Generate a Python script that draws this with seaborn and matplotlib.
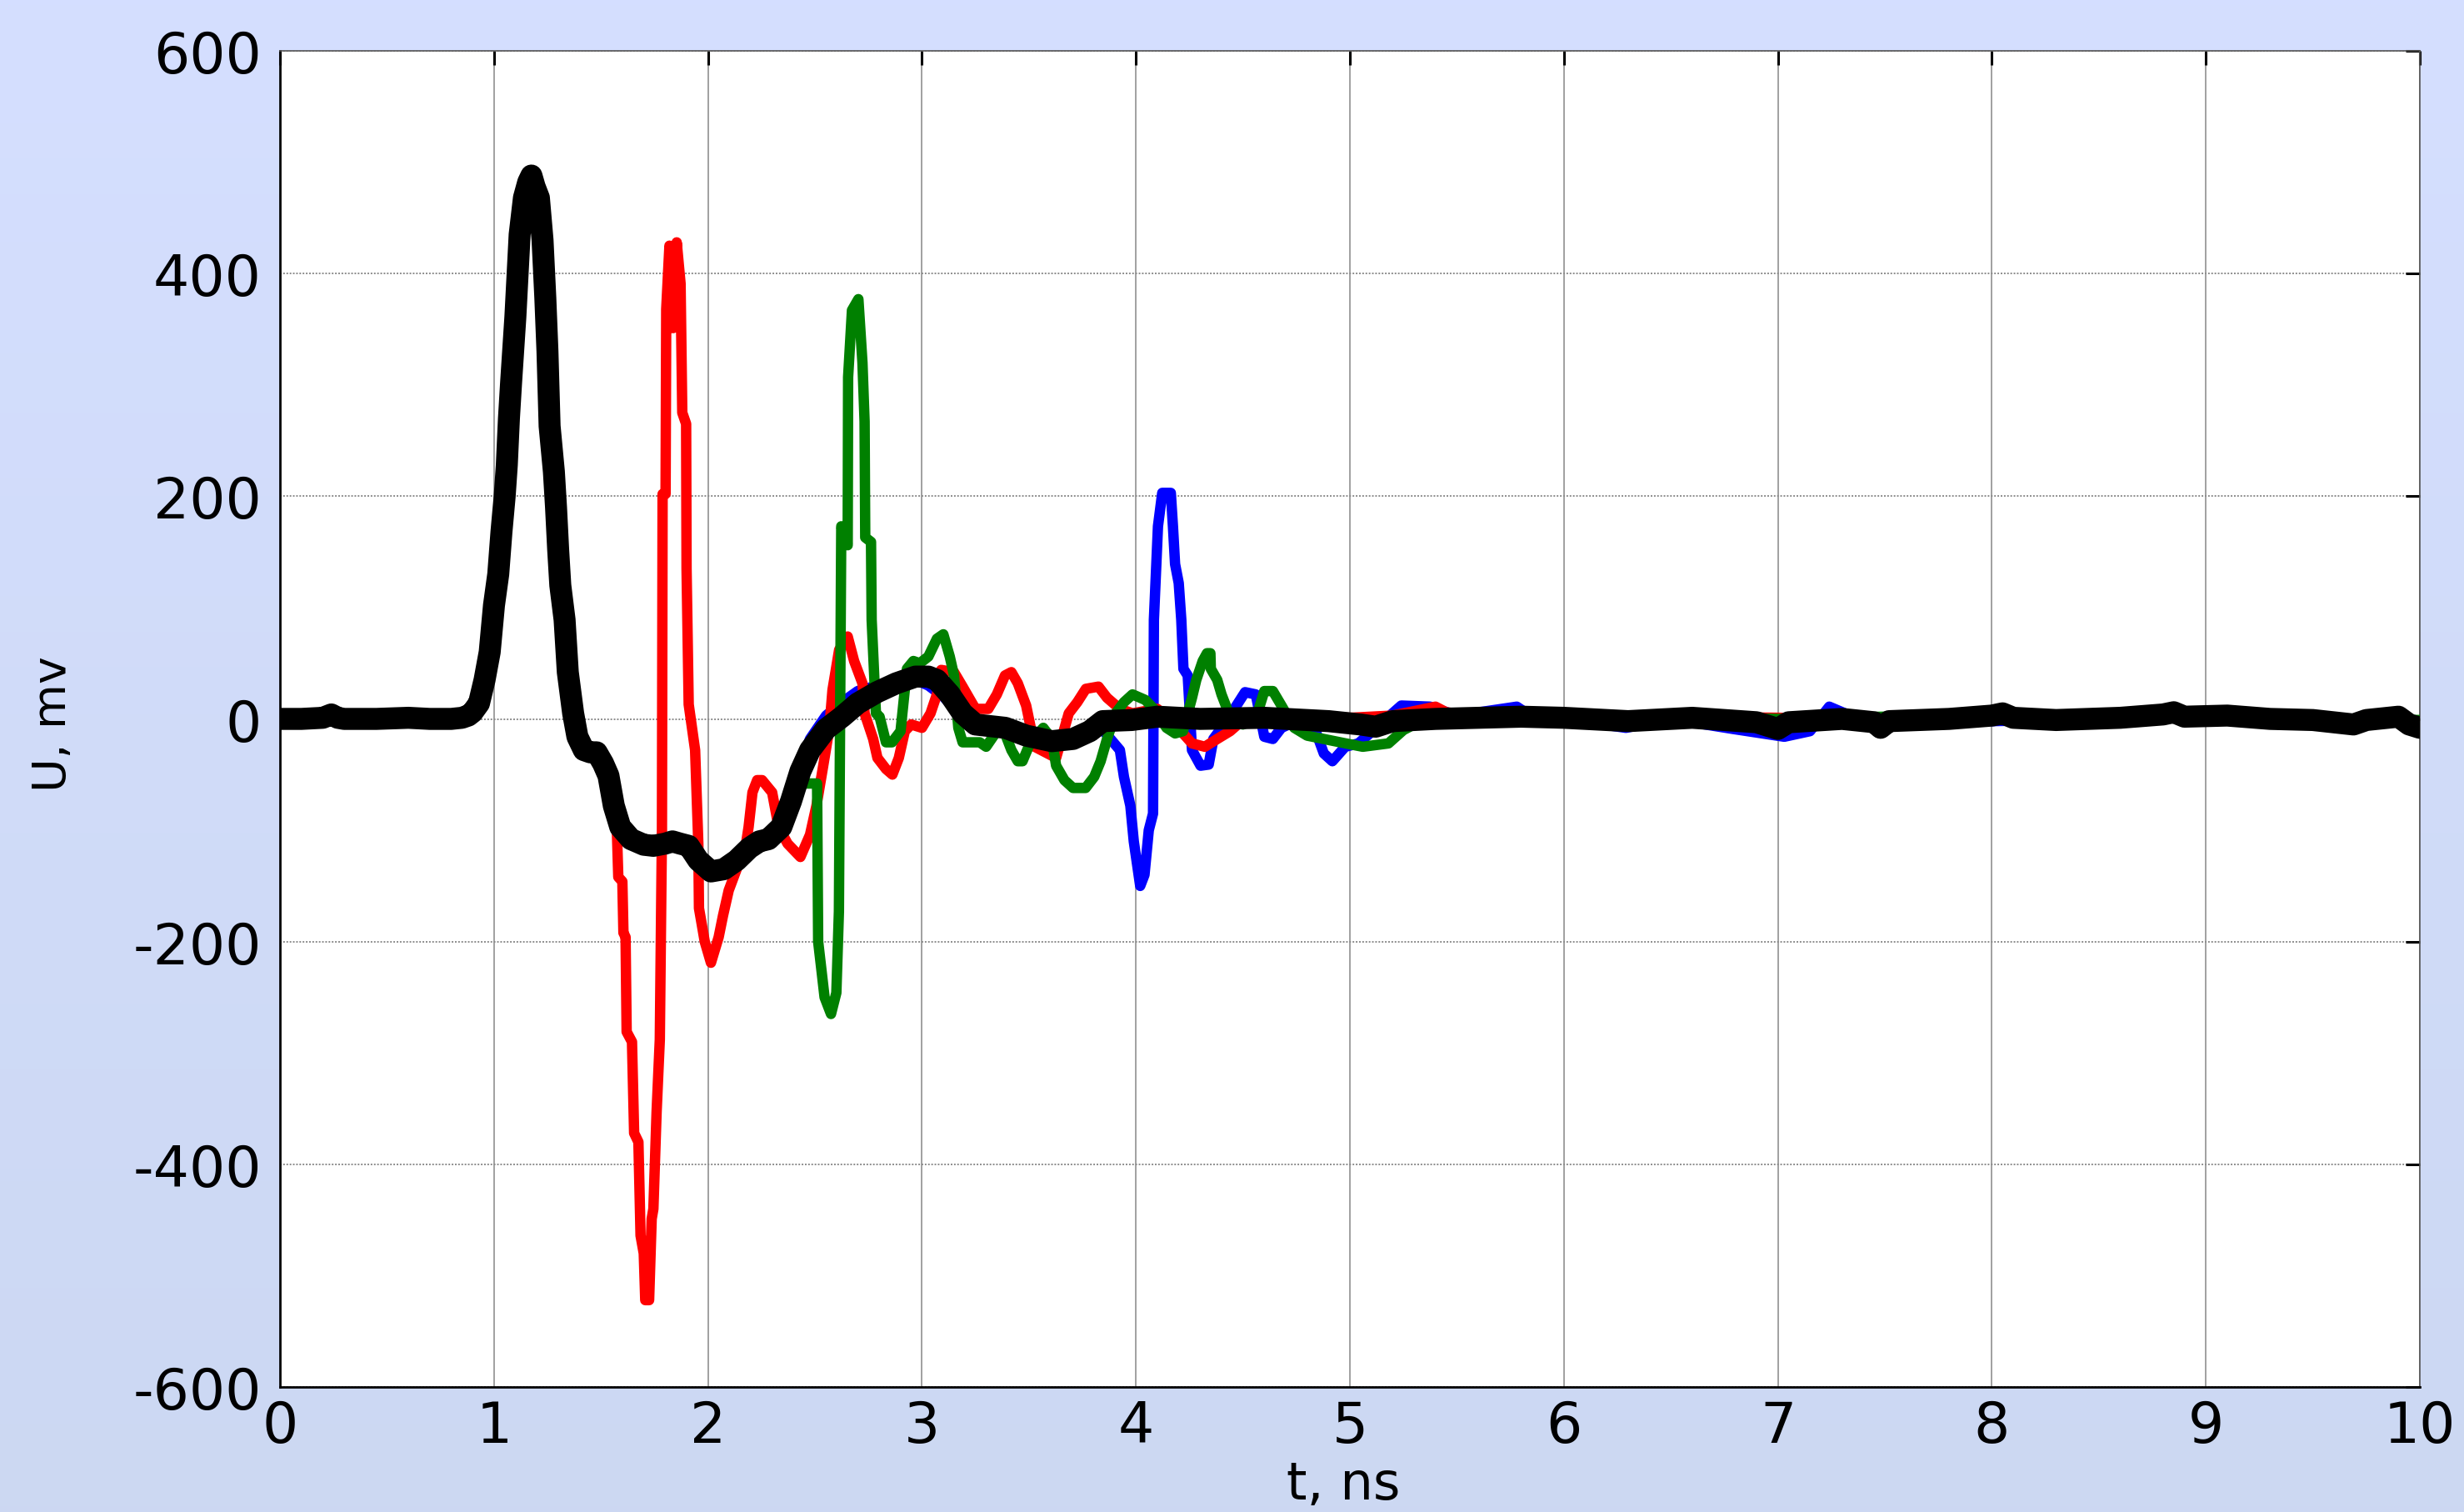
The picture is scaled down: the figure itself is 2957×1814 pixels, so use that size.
import numpy as np
import pandas as pd
import matplotlib
matplotlib.use("Agg")
import matplotlib.pyplot as plt
import seaborn as sns

# ---------------- data ----------------
# common initial pulse shared by all four traces
t_common = [0.00, 0.10, 0.20, 0.24, 0.27, 0.30, 0.45, 0.60, 0.70, 0.80, 0.85, 0.88,
            0.90, 0.93, 0.956, 0.98, 1.00, 1.02, 1.035, 1.05, 1.06, 1.07, 1.08, 1.10,
            1.12, 1.14, 1.16, 1.175, 1.19, 1.21, 1.227, 1.24, 1.25, 1.26, 1.28, 1.29,
            1.30, 1.31, 1.33, 1.345, 1.37, 1.39, 1.42, 1.45, 1.48]
u_common = [0, 0, 1, 4, 1, 0, 0, 1, 0, 0, 1, 3,
            6, 14, 35, 60, 102, 130, 168, 200, 228, 270, 302, 361,
            435, 468, 482, 488, 478, 468, 430, 378, 330, 263, 222, 190,
            152, 120, 89, 42, 5, -16, -28, -30, -30]

t_black = [1.51, 1.535, 1.56, 1.59, 1.64, 1.70, 1.745, 1.80, 1.834, 1.87, 1.91, 1.955,
           2.014, 2.074, 2.134, 2.193, 2.24, 2.283, 2.343, 2.388, 2.432, 2.477, 2.552,
           2.627, 2.70, 2.79, 2.88, 2.97, 3.03, 3.07, 3.13, 3.19, 3.25, 3.39, 3.487,
           3.607, 3.706, 3.785, 3.845, 3.98, 4.10, 4.30, 4.60, 4.90, 5.05, 5.12, 5.20,
           5.40, 5.80, 6.00, 6.30, 6.60, 6.90, 7.00, 7.05, 7.30, 7.45, 7.48, 7.52, 7.80,
           8.00, 8.05, 8.10, 8.30, 8.60, 8.80, 8.85, 8.90, 9.10, 9.30, 9.50, 9.69, 9.75,
           9.90, 9.95, 10.0]
u_black = [-40, -51, -78, -97, -108, -113, -114, -112, -110, -112, -114, -127,
           -137, -135, -127, -116, -110, -108, -97, -74, -47, -28, -9,
           2, 14, 24, 32, 38, 38, 35, 22, 5, -5, -8, -15,
           -20, -18, -11, -2, -1, 2, 0, 1, -2, -5, -7, -2,
           0, 2, 1, -2, 1, -3, -9, -3, 0, -3, -8, -2, 0,
           3, 5, 1, -1, 1, 4, 6, 2, 3, 0, -1, -5, -1,
           2, -5, -8]

t_red = [1.51, 1.535, 1.551, 1.575, 1.581, 1.60, 1.605, 1.615, 1.62, 1.645, 1.655, 1.675,
         1.685, 1.70, 1.707, 1.725, 1.737, 1.745, 1.76, 1.775, 1.785, 1.788, 1.802, 1.805,
         1.82, 1.837, 1.845, 1.854, 1.872, 1.88, 1.898, 1.90, 1.91, 1.94, 1.955, 1.958,
         1.985, 2.014, 2.05, 2.07, 2.097, 2.134, 2.178, 2.19, 2.208, 2.23, 2.253, 2.30,
         2.33, 2.372, 2.432, 2.477, 2.507, 2.537, 2.567, 2.582, 2.613, 2.653, 2.683, 2.722,
         2.732, 2.772, 2.792, 2.832, 2.862, 2.892, 2.92, 2.95, 3.00, 3.04, 3.07, 3.09,
         3.15, 3.19, 3.25, 3.31, 3.35, 3.388, 3.418, 3.448, 3.487, 3.527, 3.587, 3.627,
         3.686, 3.726, 3.766, 3.825, 3.865, 3.925, 3.984, 4.10, 4.183, 4.262, 4.322, 4.38,
         4.44, 4.50, 4.70, 5.00, 5.20, 5.40, 5.45, 5.60, 6.00, 6.50, 7.00, 7.50, 8.00,
         8.50, 8.80, 9.00, 9.50, 9.80, 10.0]
u_red = [-40, -51, -78, -104, -142, -146, -192, -196, -281, -290, -372, -380,
         -464, -480, -522, -522, -449, -440, -353, -288, -100, 202, 202, 368,
         425, 351, 360, 428, 391, 275, 265, 135, 13, -28, -112, -170,
         -200, -219, -196, -177, -154, -135, -112, -97, -66, -55, -55, -66,
         -97, -112, -124, -104, -78, -44, -9, 26, 62, 74, 52, 32,
         5, -18, -35, -45, -50, -35, -11, -5, -8, 5, 22, 44,
         42, 29, 9, 9, 22, 39, 42, 32, 12, -25, -31, -35,
         5, 15, 27, 29, 19, 9, 5, 9, -5, -22, -25, -18,
         -11, -1, 2, 1, 3, 11, 6, 2, 0, 2, 1, -1, 0,
         -3, 2, 0, 1, -1, -2]

t_green = [1.51, 1.535, 1.56, 1.59, 1.64, 1.70, 1.745, 1.80, 1.87, 1.91, 1.955, 2.014,
           2.074, 2.134, 2.193, 2.283, 2.343, 2.388, 2.44, 2.51, 2.515, 2.545, 2.575, 2.60,
           2.612, 2.623, 2.653, 2.655, 2.673, 2.703, 2.722, 2.732, 2.735, 2.762, 2.765, 2.785,
           2.802, 2.832, 2.86, 2.90, 2.93, 2.96, 2.99, 3.03, 3.07, 3.10, 3.13, 3.15,
           3.17, 3.19, 3.27, 3.30, 3.35, 3.39, 3.418, 3.448, 3.47, 3.507, 3.567, 3.607,
           3.627, 3.666, 3.706, 3.765, 3.805, 3.835, 3.865, 3.905, 3.944, 3.984, 4.044, 4.084,
           4.143, 4.183, 4.22, 4.262, 4.282, 4.312, 4.332, 4.348, 4.35, 4.38, 4.40, 4.42,
           4.44, 4.50, 4.56, 4.60, 4.64, 4.68, 4.74, 4.80, 4.98, 5.06, 5.18, 5.25,
           5.35, 5.60, 6.00, 6.20, 6.50, 7.00, 7.50, 8.00, 8.40, 8.80, 9.20, 9.60, 10.0]
u_green = [-38, -50, -78, -97, -108, -113, -114, -112, -112, -114, -127, -137,
           -135, -127, -116, -108, -90, -70, -58, -58, -200, -250, -265, -246,
           -173, 173, 156, 307, 367, 377, 320, 267, 163, 159, 89, 5,
           2, -21, -21, -11, 45, 52, 50, 56, 72, 76, 56, 39,
           -8, -21, -21, -25, -11, -14, -28, -38, -38, -21, -8, -18,
           -42, -55, -62, -62, -52, -38, -18, 5, 15, 22, 17, 9,
           -8, -13, -11, 19, 35, 52, 59, 59, 45, 35, 22, 12,
           2, -5, 0, 25, 25, 12, -8, -15, -22, -25, -22, -10,
           0, 2, 5, 3, 2, 0, 2, -1, 2, 3, 2, 0, -1]

t_blue = [1.51, 1.535, 1.56, 1.59, 1.64, 1.70, 1.745, 1.80, 1.87, 1.91, 1.955, 2.014,
          2.074, 2.134, 2.193, 2.283, 2.343, 2.388, 2.432, 2.477, 2.552, 2.627, 2.70, 2.79,
          2.88, 2.97, 3.03, 3.10, 3.19, 3.25, 3.40, 3.50, 3.60, 3.70, 3.80, 3.85,
          3.925, 3.944, 3.974, 3.99, 4.02, 4.04, 4.06, 4.08, 4.084, 4.103, 4.123, 4.163,
          4.173, 4.183, 4.20, 4.212, 4.222, 4.242, 4.262, 4.302, 4.34, 4.362, 4.40, 4.46,
          4.51, 4.56, 4.60, 4.64, 4.68, 4.76, 4.84, 4.878, 4.918, 4.978, 5.04, 5.24,
          5.375, 5.50, 5.78, 5.85, 6.00, 6.29, 6.50, 6.79, 7.03, 7.15, 7.24, 7.35,
          7.60, 8.00, 8.50, 9.00, 9.50, 10.0]
u_blue = [-40, -51, -78, -97, -108, -113, -114, -112, -112, -114, -127, -137,
          -135, -127, -116, -108, -97, -70, -40, -18, 3, 15, 25, 30,
          33, 35, 30, 20, 2, -8, -10, -15, -20, -15, -8, -11,
          -28, -52, -78, -110, -150, -140, -100, -85, 89, 173, 203, 203,
          173, 139, 122, 89, 45, 39, -28, -42, -41, -18, -8, 9,
          24, 22, -16, -18, -8, -1, -11, -31, -38, -25, -22, 12,
          11, 3, 11, 2, 0, -8, 0, -9, -16, -11, 11, 2,
          0, -2, 0, 2, -2, -3]

x_ticks = [0, 1, 2, 3, 4, 5, 6, 7, 8, 9, 10]
y_ticks = [-600, -400, -200, 0, 200, 400, 600]

# ---------------- build table ----------------
frames = []
for name, tt, uu in [("blue", t_blue, u_blue), ("red", t_red, u_red),
                     ("green", t_green, u_green), ("black", t_black, u_black)]:
    frames.append(pd.DataFrame({"t": t_common + tt, "U": u_common + uu, "trace": name}))
df = pd.concat(frames, ignore_index=True)

# ---------------- style ----------------
sns.set_theme(style="white")
plt.rcParams['font.family'] = ['DejaVu Sans']

fig = plt.figure(figsize=(29.57, 18.15), dpi=100)

# gradient backdrop
bg = fig.add_axes([0, 0, 1, 1], zorder=-10)
g = np.linspace(0, 1, 256)[:, None, None]
top = np.array([0.835, 0.874, 1.0])
bot = np.array([0.80, 0.847, 0.95])
img = top * (1 - g) + bot * g
bg.imshow(img, aspect='auto', extent=[0, 1, 0, 1])
bg.axis('off')

ax = fig.add_axes([0.11363, 0.08264, 0.86845, 0.88320])
ax.set_facecolor('white')

styles = {"blue": ("#0000FF", 9.0, 2), "red": ("#FF0000", 9.0, 3),
          "green": ("#008000", 9.0, 4), "black": ("#000000", 19.0, 5)}
for name in ["blue", "red", "green", "black"]:
    sub = df[df["trace"] == name]
    col, lw, z = styles[name]
    sns.lineplot(data=sub, x="t", y="U", ax=ax, color=col, linewidth=lw,
                 sort=False, estimator=None, zorder=z,
                 solid_joinstyle='round', solid_capstyle='round')

ax.set_xlim(0, 10)
ax.set_ylim(-600, 600)
ax.set_xticks(x_ticks)
ax.set_yticks(y_ticks)
ax.set_xticklabels([str(v) for v in x_ticks])
ax.set_yticklabels([str(v) for v in y_ticks])

ax.set_axisbelow(True)
ax.xaxis.grid(True, color='#a0a0a0', linestyle='-', linewidth=1.4)
ax.yaxis.grid(True, color='#8c8c8c', linestyle=(0, (1, 1)), linewidth=1.4)

ax.tick_params(axis='both', direction='in', top=True, right=True, length=12,
               width=2.2, color='black', labelsize=49, labelcolor='black')
ax.tick_params(axis='x', pad=10)
ax.tick_params(axis='y', pad=16)

for side in ['left', 'bottom']:
    ax.spines[side].set_color('black')
    ax.spines[side].set_linewidth(2.0)
for side in ['top', 'right']:
    ax.spines[side].set_color('#555555')
    ax.spines[side].set_linewidth(1.2)

ax.set_xlabel("t, ns", fontsize=45, color='black')
ax.set_ylabel("U, mv", fontsize=40, color='black')
ax.xaxis.set_label_coords(0.497, -0.054)
ax.xaxis.label.set_va('top')
ax.yaxis.set_label_coords(-0.106, 0.497)
ax.yaxis.label.set_va('center')

fig.savefig("out.png", dpi=100)
